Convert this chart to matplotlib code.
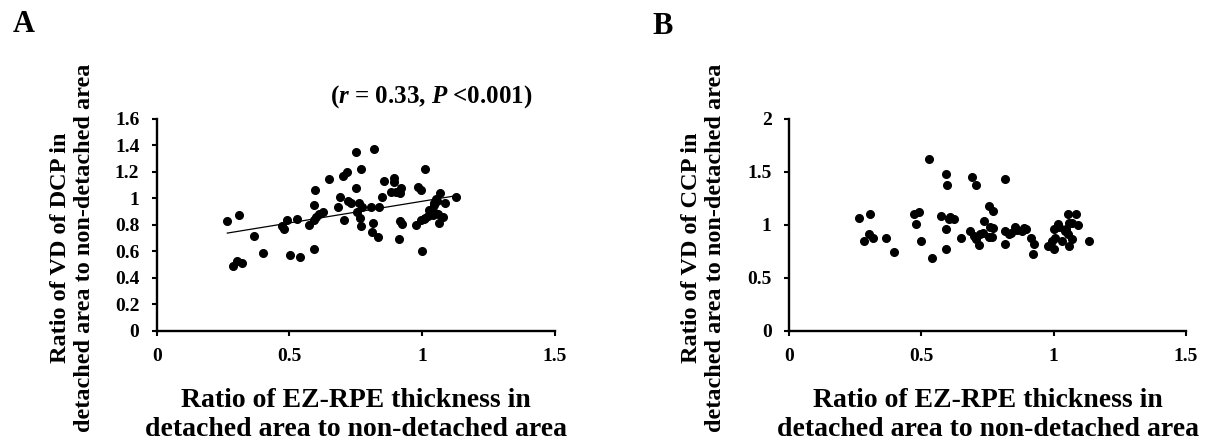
import numpy as np
import matplotlib
matplotlib.use("Agg")
import matplotlib.pyplot as plt

plt.rcParams['font.family'] = ['Liberation Serif', 'DejaVu Serif']
plt.rcParams['font.weight'] = 'bold'
plt.rcParams['mathtext.fontset'] = 'custom'
plt.rcParams['mathtext.it'] = 'Liberation Serif:italic:bold'
plt.rcParams['mathtext.rm'] = 'Liberation Serif:bold'

# Panel A: EZ-RPE thickness ratio vs VD ratio of DCP
xA = [0.266, 0.31, 0.286, 0.303, 0.32, 0.366, 0.401, 0.47, 0.48, 0.491, 0.501,
      0.53, 0.539, 0.573, 0.593, 0.595, 0.593, 0.593, 0.60, 0.61, 0.625, 0.649,
      0.683, 0.692, 0.705, 0.70, 0.716, 0.72, 0.733, 0.749, 0.752, 0.771, 0.762,
      0.774, 0.754, 0.764, 0.771, 0.808, 0.839, 0.814, 0.812, 0.833, 0.817,
      0.855, 0.893, 0.893, 0.883, 0.902, 0.921, 0.915, 0.85, 0.983, 0.996,
      1.012, 0.917, 0.923, 0.912, 0.977, 0.996, 1.005, 1.012, 1.021, 1.027,
      1.04, 1.049, 1.059, 1.062, 1.08, 1.043, 1.05, 1.065, 1.084, 1.128, 0.999,
      1.045, 1.055]
yA = [0.83, 0.875, 0.49, 0.53, 0.51, 0.72, 0.586, 0.79, 0.767, 0.838, 0.574,
      0.845, 0.558, 0.80, 0.619, 1.064, 0.951, 0.84, 0.86, 0.88, 0.898, 1.145,
      0.934, 1.012, 0.838, 1.172, 1.197, 0.978, 0.968, 1.077, 1.353, 1.222, 0.964,
      0.934, 0.896, 0.85, 0.795, 0.934, 0.934, 0.817, 0.75, 0.707, 1.37,
      1.134, 1.152, 1.122, 1.046, 1.051, 1.077, 1.039, 1.009, 1.089, 1.064,
      1.222, 0.83, 0.808, 0.692, 0.80, 0.838, 0.845, 0.855, 0.868, 0.913,
      0.875, 0.888, 0.88, 0.813, 0.863, 0.968, 0.994, 1.039, 0.964, 1.009, 0.606,
      0.95, 0.98]

# Panel B: EZ-RPE thickness ratio vs VD ratio of CCP
xB = [0.265, 0.306, 0.284, 0.303, 0.319, 0.366, 0.398, 0.473, 0.49, 0.48, 0.50,
      0.53, 0.54, 0.574, 0.593, 0.596, 0.593, 0.593, 0.603, 0.609, 0.625, 0.651,
      0.685, 0.692, 0.707, 0.697, 0.706, 0.718, 0.723, 0.731, 0.735, 0.754, 0.77,
      0.76, 0.77, 0.754, 0.767, 0.815, 0.815, 0.817, 0.83, 0.839, 0.855, 0.862,
      0.88, 0.889, 0.897, 0.916, 0.924, 0.921, 0.977, 1.0, 0.994, 1.006, 1.0,
      1.015, 1.02, 1.054, 1.058, 1.042, 1.054, 1.056, 1.03, 1.07, 1.07, 1.085,
      1.09, 1.133, 1.045]
yB = [1.069, 1.10, 0.849, 0.918, 0.88, 0.88, 0.748, 1.10, 1.123, 1.013, 0.849,
      1.626, 0.692, 1.085, 1.478, 1.374, 0.965, 0.777, 1.053, 1.075, 1.06, 0.88,
      0.943, 1.456, 1.374, 0.896, 0.871, 0.811, 0.912, 0.928, 1.038, 1.179, 1.132,
      0.981, 0.975, 0.887, 0.887, 1.431, 0.818, 0.943, 0.918, 0.925, 0.981, 0.95,
      0.943, 0.969, 0.959, 0.88, 0.818, 0.73, 0.802, 0.77, 0.849, 0.874, 0.96,
      1.006, 0.98, 1.10, 1.022, 0.943, 0.912, 0.802, 0.85, 0.87, 1.02, 1.10,
      1.0, 0.85, 0.96]

xticks = [0, 0.5, 1, 1.5]
xticklabels = ['0', '0.5', '1', '1.5']
yticksA = [0, 0.2, 0.4, 0.6, 0.8, 1.0, 1.2, 1.4, 1.6]
yticklabelsA = ['0', '0.2', '0.4', '0.6', '0.8', '1', '1.2', '1.4', '1.6']
yticksB = [0, 0.5, 1.0, 1.5, 2.0]
yticklabelsB = ['0', '0.5', '1', '1.5', '2']

xlabel = 'Ratio of EZ-RPE thickness in\ndetached area to non-detached area'
ylabelA = 'Ratio of VD of DCP in\ndetached area to non-detached area'
ylabelB = 'Ratio of VD of CCP in\ndetached area to non-detached area'
annotA = '($r$ = 0.33, $P$ <0.001)'

fig = plt.figure(figsize=(12.1, 4.45), dpi=100)
axA = fig.add_axes([0.1295, 0.2562, 0.3292, 0.4764])
axB = fig.add_axes([0.6521, 0.2562, 0.3281, 0.4764])


def style(ax, yticks, yticklabels, ylabel):
    ax.set_xlim(0, 1.5)
    ax.set_ylim(yticks[0], yticks[-1])
    ax.set_xticks(xticks)
    ax.set_xticklabels(xticklabels)
    ax.set_yticks(yticks)
    ax.set_yticklabels(yticklabels)
    for s in ['top', 'right']:
        ax.spines[s].set_visible(False)
    for s in ['left', 'bottom']:
        ax.spines[s].set_linewidth(1.7)
        ax.spines[s].set_color('black')
    ax.tick_params(direction='out', length=3.5, width=1.5, labelsize=14, pad=9,
                   colors='black')
    for lab in ax.get_xticklabels() + ax.get_yticklabels():
        lab.set_fontweight('bold')
    ax.set_xlabel(xlabel, fontsize=20, fontweight='bold', va='center', linespacing=1.2)
    ax.xaxis.set_label_coords(0.5, -0.396)
    ax.set_ylabel(ylabel, fontsize=17.5, fontweight='bold', va='center',
                  ha='center', linespacing=1.2)


style(axA, yticksA, yticklabelsA, ylabelA)
style(axB, yticksB, yticklabelsB, ylabelB)
axA.yaxis.set_label_coords(-0.211, 0.394)
axB.yaxis.set_label_coords(-0.215, 0.394)

axA.plot(xA, yA, 'o', color='black', markersize=5.5, clip_on=False, zorder=3)
axB.plot(xB, yB, 'o', color='black', markersize=5.5, clip_on=False, zorder=3)

# linear trend line for panel A
coef = np.polyfit(xA, yA, 1)
xfit = np.array([min(xA), max(xA)])
axA.plot(xfit, np.polyval(coef, xfit), color='black', linewidth=0.9, zorder=2)

axA.text(1.035, 1.766, annotA, fontsize=18, fontweight='bold', ha='center',
         va='center', clip_on=False)

fig.text(24 / 1210, 1 - 25 / 445, 'A', fontsize=22, fontweight='bold',
         ha='center', va='center')
fig.text(663 / 1210, 1 - 27 / 445, 'B', fontsize=22, fontweight='bold',
         ha='center', va='center')

fig.savefig('out.png', dpi=100, facecolor='white')
